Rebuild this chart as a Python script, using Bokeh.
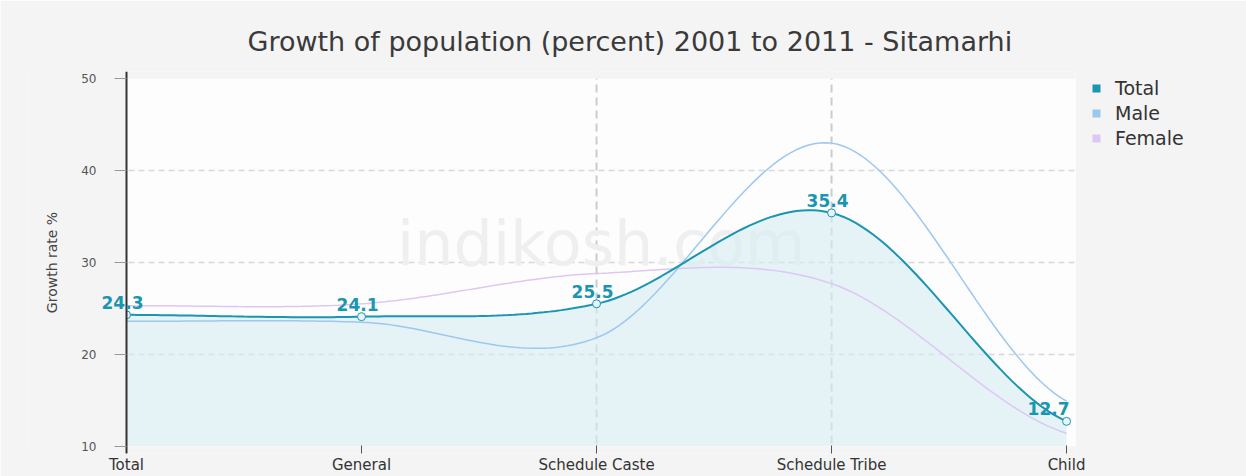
import numpy as np
from bokeh.plotting import figure
from bokeh.models import (ColumnDataSource, FixedTicker, Span, Legend, LegendItem, Label, Title,
                          BoxAnnotation)
from bokeh.embed import file_html
from bokeh.resources import INLINE

categories = ["Total", "General", "Schedule Caste", "Schedule Tribe", "Child"]
total = [24.3, 24.1, 25.5, 35.4, 12.7]
male = [23.6, 23.5, 21.8, 43.0, 14.9]
female = [25.3, 25.5, 28.8, 27.7, 11.4]
total_labels = ["24.3", "24.1", "25.5", "35.4", "12.7"]
y_ticks = [10, 20, 30, 40, 50]

TEAL = "#1b95b0"
MALE_C = "#9cc8ef"
FEMALE_C = "#dcc8f2"
PAGE_BG = "#f4f4f4"


def spline(vals, n=40):
    """Catmull-Rom style curve through the data points (for rendering)."""
    v = np.asarray(vals, dtype=float)
    k = len(v)
    m = np.zeros(k)
    for i in range(k):
        if i == 0:
            m[i] = (v[1] - v[0]) * 0.5
        elif i == k - 1:
            m[i] = (v[-1] - v[-2]) * 0.5
        else:
            m[i] = (v[i + 1] - v[i - 1]) / 2.0
    xs, ys = [], []
    for i in range(k - 1):
        t = np.linspace(0, 1, n, endpoint=(i == k - 2))
        h00 = 2 * t**3 - 3 * t**2 + 1
        h10 = t**3 - 2 * t**2 + t
        h01 = -2 * t**3 + 3 * t**2
        h11 = t**3 - t**2
        ys.append(h00 * v[i] + h10 * m[i] + h01 * v[i + 1] + h11 * m[i + 1])
        xs.append(i + t)
    return np.concatenate(xs), np.concatenate(ys)


x_idx = list(range(len(categories)))
y_lo, y_hi = y_ticks[0], y_ticks[-1]
x_lo, x_hi = -0.417, 4.038

p = figure(frame_width=1047, frame_height=382, output_backend="svg", toolbar_location=None,
           x_range=(x_lo, x_hi), y_range=(y_lo - 0.8, y_hi + 0.8),
           min_border_left=28, min_border_right=171, min_border_top=71, min_border_bottom=23,
           background_fill_color="#fdfdfd", border_fill_color=PAGE_BG,
           outline_line_color=None)

p.title = Title(text="Growth of population (percent) 2001 to 2011 - Sitamarhi",
                align="left", offset=219, text_font="DejaVu Sans", text_font_size="27px",
                text_font_style="normal", text_color="#3a3a3a", standoff=30)

# axes
p.xaxis.ticker = FixedTicker(ticks=x_idx)
p.xaxis.major_label_overrides = {i: c for i, c in zip(x_idx, categories)}
p.xaxis.major_label_text_font = "DejaVu Sans"
p.xaxis.major_label_text_font_size = "15px"
p.xaxis.major_label_text_color = "#333333"
p.xaxis.axis_line_color = None
p.xaxis.major_tick_line_color = "#555555"
p.xaxis.major_tick_in = 8
p.xaxis.major_tick_out = 0
p.xaxis.minor_tick_line_color = None
p.xaxis.major_label_standoff = 2

p.yaxis.fixed_location = 0
p.yaxis.ticker = FixedTicker(ticks=y_ticks)
p.yaxis.major_label_text_font = "DejaVu Sans"
p.yaxis.major_label_text_font_size = "12px"
p.yaxis.major_label_text_color = "#555555"
p.yaxis.axis_line_color = "#333333"
p.yaxis.axis_line_width = 2
p.yaxis.major_tick_line_color = "#999999"
p.yaxis.major_tick_out = 12
p.yaxis.major_tick_in = 0
p.yaxis.minor_tick_line_color = None
p.yaxis.major_label_standoff = 18
p.yaxis.axis_label = "Growth rate %"
p.yaxis.axis_label_text_font = "DejaVu Sans"
p.yaxis.axis_label_text_font_size = "14px"
p.yaxis.axis_label_text_font_style = "normal"
p.yaxis.axis_label_text_color = "#444444"
p.yaxis.axis_label_standoff = 18

p.xgrid.grid_line_color = None
p.ygrid.ticker = FixedTicker(ticks=y_ticks[1:-1])
p.ygrid.grid_line_color = "#d8d8d8"
p.ygrid.grid_line_dash = "6 4"
p.ygrid.grid_line_width = 1.5

# regions outside the plotting area look like the page background
for kw in (dict(left=x_lo - 1, right=0, bottom=y_lo - 5, top=y_hi + 5),
           dict(left=x_lo - 1, right=x_hi + 1, bottom=y_lo - 5, top=y_lo),
           dict(left=x_lo - 1, right=x_hi + 1, bottom=y_hi, top=y_hi + 5)):
    p.add_layout(BoxAnnotation(fill_color=PAGE_BG, fill_alpha=1.0, line_color=None,
                               level="glyph", **kw))

for i in (2, 3):
    p.add_layout(Span(location=x_idx[i], dimension="height", line_color="#cccccc",
                      line_dash="8 5", line_width=2, level="underlay"))

# watermark
p.add_layout(Label(x=2.02, y=32.1, text="indikosh.com", text_align="center",
                   text_baseline="middle", text_font="DejaVu Sans",
                   text_font_size="62px", text_color="#efefef", level="underlay"))

tx, ty = spline(total)
mx, my = spline(male)
fx, fy = spline(female)

p.varea(x=tx, y1=np.full_like(ty, float(y_lo)), y2=ty, fill_color="#d6ecf3", fill_alpha=0.6)

p.line(fx, fy, line_color=FEMALE_C, line_width=1.5)
p.line(mx, my, line_color=MALE_C, line_width=1.5)
p.line(tx, ty, line_color=TEAL, line_width=2)

src = ColumnDataSource(dict(x=x_idx, y=total))
p.scatter("x", "y", source=src, size=8, fill_color="#e8f4f8", line_color=TEAL, line_width=1)

for i, (xv, yv, lab) in enumerate(zip(x_idx, total, total_labels)):
    p.add_layout(Label(x=xv, y=yv, text=lab, text_align="center", text_baseline="bottom",
                       x_offset=(-18 if i == len(x_idx) - 1 else -4), y_offset=6,
                       text_font="DejaVu Sans", text_font_size="17px",
                       text_font_style="bold", text_color=TEAL))

# legend swatches: zero-size square markers on each series (only the legend shows them)
sw = dict(marker="square", size=0, line_color=None)
lg_t = p.scatter(x=x_idx, y=total, fill_color=TEAL, **sw)
lg_m = p.scatter(x=x_idx, y=male, fill_color=MALE_C, **sw)
lg_f = p.scatter(x=x_idx, y=female, fill_color=FEMALE_C, **sw)

legend = Legend(items=[LegendItem(label="Total", renderers=[lg_t]),
                       LegendItem(label="Male", renderers=[lg_m]),
                       LegendItem(label="Female", renderers=[lg_f])],
                location="top_left", background_fill_alpha=0, border_line_color=None,
                label_text_font="DejaVu Sans", label_text_font_size="19px",
                label_text_color="#333333", glyph_width=30, glyph_height=20,
                label_height=22, spacing=3, padding=12, margin=6, label_standoff=4)
p.add_layout(legend, "right")

open("out.html", "w").write(file_html(p, INLINE))
